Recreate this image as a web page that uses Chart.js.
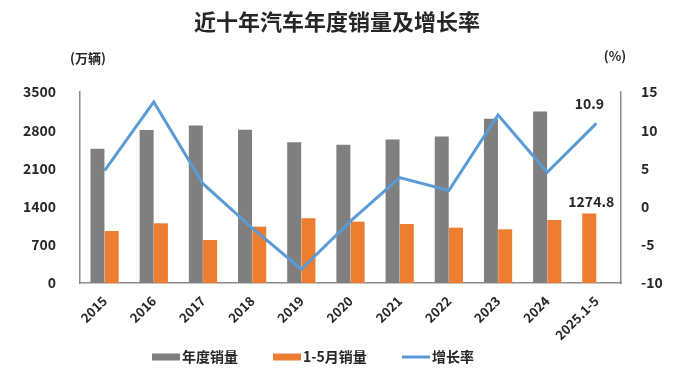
<!DOCTYPE html>
<html>
<head>
<meta charset="utf-8">
<script src="https://cdn.jsdelivr.net/npm/chart.js@4"></script>
<style>
  html, body { margin: 0; padding: 0; background: #fff; }
  #wrap { width: 680px; height: 382px; position: relative; }
</style>
</head>
<body>
<div id="wrap"><canvas id="chart"></canvas></div>
<script>
// 数据
const categories = ['2015', '2016', '2017', '2018', '2019', '2020', '2021', '2022', '2023', '2024', '2025.1-5'];
const annualSales = [2459.8, 2802.8, 2887.9, 2808.1, 2576.9, 2531.1, 2627.5, 2686.4, 3009.4, 3143.6, null];
const janMaySales = [953, 1094, 788, 1032, 1185, 1124, 1081, 1014, 984, 1154, 1274.8];
const growthRate = [4.7, 13.7, 3.0, -2.8, -8.2, -1.9, 3.8, 2.1, 12.0, 4.5, 10.9];
const leftTicks = [0, 700, 1400, 2100, 2800, 3500];
const rightTicks = [-10, -5, 0, 5, 10, 15];

const GRAY = '#7f7f7f';
const ORANGE = '#ed7d31';
const BLUE = '#5b9bd5';
const TEXT = '#262626';
const FONT = '"Noto Sans CJK SC", "Noto Sans", sans-serif';

// 2025 只有 1-5 月，原图里放在第一根柱的位置
const lastIdx = categories.length - 1;
const firstBar = annualSales.map((v, i) => v != null ? v : janMaySales[i]);
const firstBarColors = annualSales.map(v => v != null ? GRAY : ORANGE);
const secondBar = janMaySales.map((v, i) => annualSales[i] != null ? v : null);

// 标题、单位、数据标签、图例
const decor = {
    id: 'decor',
    afterDraw(chart) {
        const ctx = chart.ctx;
        ctx.save();
        ctx.fillStyle = TEXT;
        ctx.textBaseline = 'middle';
        ctx.textAlign = 'center';
        ctx.font = 'bold 22px ' + FONT;
        ctx.fillText('近十年汽车年度销量及增长率', 337, 22);

        ctx.font = 'bold 13px ' + FONT;
        ctx.fillText('(万辆)', 88, 58);
        ctx.fillText('(%)', 615, 56);

        // 数据标签
        ctx.font = 'bold 14px ' + FONT;
        const linePt = chart.getDatasetMeta(2).data[lastIdx];
        ctx.fillText(growthRate[lastIdx].toFixed(1), linePt.x - 7, linePt.y - 20);
        const bar = chart.getDatasetMeta(0).data[lastIdx];
        ctx.fillText(String(janMaySales[lastIdx]), bar.x + 2, bar.y - 12);

        // 图例
        const items = [
            { label: chart.data.datasets[0].label, color: GRAY, type: 'box', x: 152 },
            { label: chart.data.datasets[1].label, color: ORANGE, type: 'box', x: 273 },
            { label: chart.data.datasets[2].label, color: BLUE, type: 'line', x: 402 }
        ];
        const ly = 357;
        ctx.font = 'bold 14px ' + FONT;
        ctx.textAlign = 'left';
        items.forEach(it => {
            if (it.type === 'box') {
                ctx.fillStyle = it.color;
                ctx.fillRect(it.x, ly - 3.5, 28, 7);
            } else {
                ctx.strokeStyle = it.color;
                ctx.lineWidth = 3;
                ctx.beginPath();
                ctx.moveTo(it.x, ly);
                ctx.lineTo(it.x + 28, ly);
                ctx.stroke();
            }
            ctx.fillStyle = TEXT;
            ctx.fillText(it.label, it.x + 30, ly);
        });
        ctx.restore();
    }
};

new Chart(document.getElementById('chart'), {
    type: 'bar',
    data: {
        labels: categories,
        datasets: [
            {
                label: '年度销量',
                data: firstBar,
                backgroundColor: firstBarColors,
                yAxisID: 'y',
                order: 1,
                categoryPercentage: 0.58,
                barPercentage: 0.98
            },
            {
                label: '1-5月销量',
                data: secondBar,
                backgroundColor: ORANGE,
                yAxisID: 'y',
                order: 1,
                categoryPercentage: 0.58,
                barPercentage: 0.98
            },
            {
                type: 'line',
                label: '增长率',
                data: growthRate,
                borderColor: BLUE,
                borderWidth: 3,
                pointRadius: 0,
                tension: 0,
                fill: false,
                yAxisID: 'y1',
                order: 0
            }
        ]
    },
    options: {
        responsive: true,
        maintainAspectRatio: false,
        animation: false,
        layout: { padding: { top: 92, left: 0, right: 0, bottom: 0 } },
        plugins: {
            legend: { display: false },
            title: { display: false },
            tooltip: { enabled: false }
        },
        scales: {
            x: {
                grid: { display: false },
                border: { display: true, color: '#8c8c8c', width: 1.5 },
                ticks: {
                    color: TEXT,
                    font: { family: FONT, size: 13, weight: 'bold' },
                    maxRotation: 45,
                    minRotation: 45,
                    padding: 2
                },
                afterFit(scale) { scale.height = 99; }
            },
            y: {
                position: 'left',
                min: 0,
                max: 3500,
                grid: { display: false },
                border: { display: true, color: '#8c8c8c', width: 1.5 },
                afterBuildTicks(scale) { scale.ticks = leftTicks.map(v => ({ value: v })); },
                ticks: {
                    color: TEXT,
                    font: { family: FONT, size: 14, weight: 'bold' },
                    padding: 16,
                    callback: v => String(v)
                },
                afterFit(scale) { scale.width = 80; }
            },
            y1: {
                position: 'right',
                min: -10,
                max: 15,
                grid: { display: false },
                border: { display: true, color: '#8c8c8c', width: 1.5 },
                afterBuildTicks(scale) { scale.ticks = rightTicks.map(v => ({ value: v })); },
                ticks: {
                    color: TEXT,
                    font: { family: FONT, size: 14, weight: 'bold' },
                    padding: 12,
                    callback: v => String(v)
                },
                afterFit(scale) { scale.width = 59; }
            }
        }
    },
    plugins: [decor]
});
</script>
</body>
</html>
